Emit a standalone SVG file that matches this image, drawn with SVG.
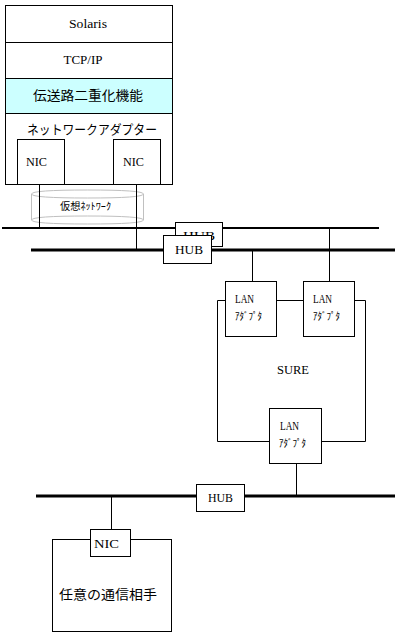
<svg xmlns="http://www.w3.org/2000/svg" width="401" height="636" viewBox="0 0 401 636">
<style>
.box{fill:#fff;stroke:#000;stroke-width:1}
.ln{stroke:#000;stroke-width:1;fill:none}
.bus{stroke:#000;fill:none}
.t{font-family:"Liberation Serif","Noto Sans CJK JP",serif;font-size:13px;fill:#000;text-anchor:middle}
.ts{font-family:"Liberation Serif","Noto Sans CJK JP",serif;font-size:12px;fill:#000;text-anchor:start}
.j{font-family:"Noto Sans CJK JP","Liberation Sans",sans-serif;font-size:13px;fill:#000;text-anchor:middle}
.js{font-family:"Noto Sans CJK JP","Liberation Sans",sans-serif;font-size:10px;fill:#000;text-anchor:start}
</style>
<rect width="401" height="636" fill="#fff"/>
<g id="connectors">
<line class="bus" x1="2" y1="228" x2="379" y2="228" stroke-width="2"/>
<line class="bus" x1="31" y1="250" x2="395" y2="250" stroke-width="3"/>
<line class="bus" x1="36" y1="496" x2="395" y2="496" stroke-width="3"/>
<line class="ln" x1="39.5" y1="184" x2="39.5" y2="228"/>
<line class="ln" x1="136.5" y1="184" x2="136.5" y2="250"/>
<line class="ln" x1="252.5" y1="250" x2="252.5" y2="281"/>
<line class="ln" x1="329.5" y1="228" x2="329.5" y2="281"/>
<polyline class="ln" points="225,300.5 217.5,300.5 217.5,441.5 269,441.5"/>
<line class="ln" x1="276" y1="300.5" x2="303" y2="300.5"/>
<polyline class="ln" points="354,300.5 365.5,300.5 365.5,441.5 321,441.5"/>
<line class="ln" x1="296.5" y1="463" x2="296.5" y2="496"/>
<line class="ln" x1="111.5" y1="496" x2="111.5" y2="529"/>
</g>
<g id="host">
<rect class="box" x="5.5" y="5.5" width="167" height="179"/>
<line class="ln" x1="5.5" y1="42.5" x2="172.5" y2="42.5"/>
<rect x="5.5" y="78.5" width="167" height="35" fill="#ccffff" stroke="#000"/>
<text class="t" x="88" y="28" textLength="38" lengthAdjust="spacingAndGlyphs">Solaris</text>
<text class="t" x="83" y="64" textLength="39" lengthAdjust="spacingAndGlyphs">TCP/IP</text>
<text class="j" x="88" y="100" textLength="110" lengthAdjust="spacingAndGlyphs">伝送路二重化機能</text>
<text class="j" x="92" y="134" textLength="130" lengthAdjust="spacingAndGlyphs">ネットワークアダプター</text>
</g>
<g id="nic1">
<rect class="box" x="17.5" y="139.5" width="47" height="45"/>
<text class="ts" x="26" y="166" textLength="21" lengthAdjust="spacingAndGlyphs">NIC</text>
</g>
<g id="nic2">
<rect class="box" x="113.5" y="139.5" width="47" height="45"/>
<text class="ts" x="123" y="166" textLength="21" lengthAdjust="spacingAndGlyphs">NIC</text>
</g>
<g id="vnet">
<path d="M31.5,194 Q31.5,190 87.5,190 Q143.5,190 143.5,194 Q143.5,198 87.5,198 Q31.5,198 31.5,194 Z M31.5,194 L31.5,220 Q31.5,224 87.5,224 Q143.5,224 143.5,220 L143.5,194 M31.5,220 Q31.5,216 87.5,216 Q143.5,216 143.5,220" fill="none" stroke="#c0c0c0" stroke-width="1"/>
<line class="ln" x1="39.5" y1="190" x2="39.5" y2="228"/>
<line class="ln" x1="136.5" y1="190" x2="136.5" y2="228"/>
<text class="js" x="60" y="210" textLength="51" lengthAdjust="spacingAndGlyphs">仮想ﾈｯﾄﾜｰｸ</text>
</g>
<g id="hub1">
<rect class="box" x="175.5" y="222.5" width="47" height="24"/>
<text class="ts" x="183" y="240" textLength="32" lengthAdjust="spacingAndGlyphs">HUB</text>
</g>
<g id="hub2">
<rect class="box" x="163.5" y="235.5" width="48" height="28"/>
<text class="ts" x="175" y="254" textLength="28" lengthAdjust="spacingAndGlyphs">HUB</text>
</g>
<g id="lan1">
<rect class="box" x="225.5" y="281.5" width="51" height="55"/>
<text class="ts" x="235" y="303" textLength="19" lengthAdjust="spacingAndGlyphs">LAN</text>
<text class="js" x="235" y="320" textLength="27" lengthAdjust="spacingAndGlyphs">ｱﾀﾞﾌﾟﾀ</text>
</g>
<g id="lan2">
<rect class="box" x="303.5" y="281.5" width="51" height="55"/>
<text class="ts" x="313" y="303" textLength="19" lengthAdjust="spacingAndGlyphs">LAN</text>
<text class="js" x="313" y="320" textLength="27" lengthAdjust="spacingAndGlyphs">ｱﾀﾞﾌﾟﾀ</text>
</g>
<g id="sure">
<text class="ts" x="277" y="374" textLength="32" lengthAdjust="spacingAndGlyphs">SURE</text>
</g>
<g id="lan3">
<rect class="box" x="269.5" y="408.5" width="52" height="55"/>
<text class="ts" x="280" y="430" textLength="19" lengthAdjust="spacingAndGlyphs">LAN</text>
<text class="js" x="279" y="447" textLength="27" lengthAdjust="spacingAndGlyphs">ｱﾀﾞﾌﾟﾀ</text>
</g>
<g id="hub3">
<rect class="box" x="196.5" y="484.5" width="48" height="27"/>
<text class="ts" x="208" y="502" textLength="25" lengthAdjust="spacingAndGlyphs">HUB</text>
</g>
<g id="peer">
<rect class="box" x="52.5" y="539.5" width="119" height="92"/>
<text class="j" x="108" y="599" font-size="14" textLength="98" lengthAdjust="spacingAndGlyphs">任意の通信相手</text>
</g>
<g id="nic3">
<rect class="box" x="90.5" y="529.5" width="40" height="27"/>
<text class="ts" x="94" y="548" font-size="14" textLength="25" lengthAdjust="spacingAndGlyphs">NIC</text>
</g>
</svg>
